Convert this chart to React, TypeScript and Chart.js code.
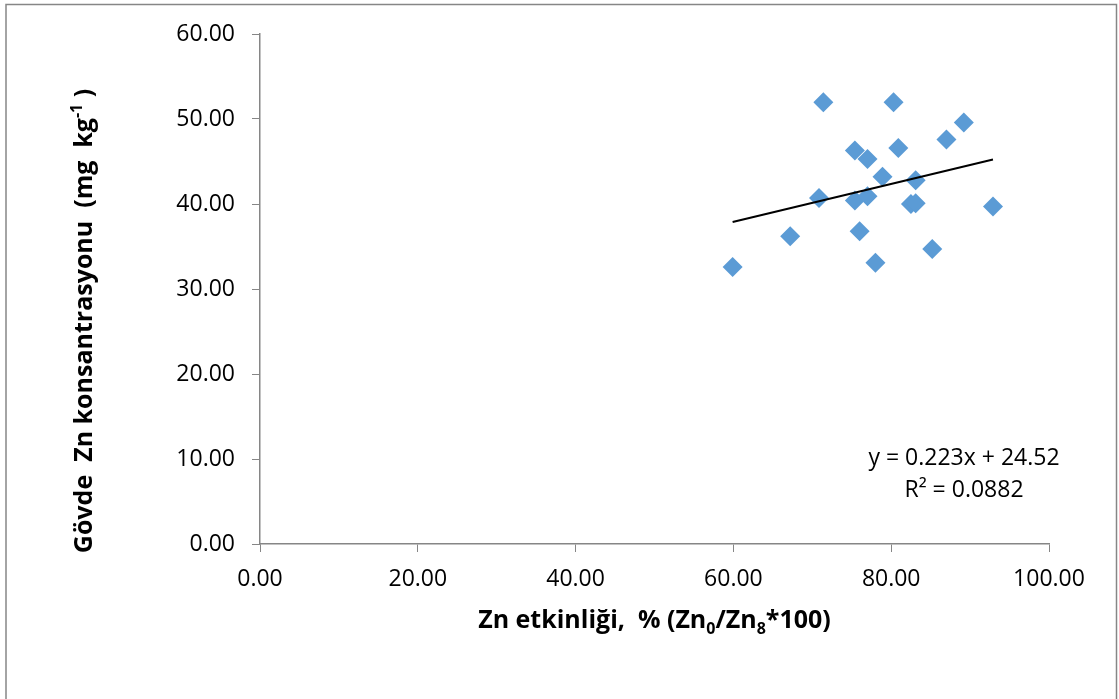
import React, { useEffect, useRef } from 'react';
import { Chart, registerables } from 'chart.js';

Chart.register(...registerables);

// Zn efficiency (%) – x values
const zincEfficiency = [59.9, 67.2, 70.85, 71.4, 75.4, 75.4, 76.0, 77.0, 77.0, 78.0, 78.9, 80.3, 80.9, 82.5, 83.1, 83.1, 85.2, 87.0, 89.2, 92.9];
// Shoot Zn concentration (mg kg-1) – y values
const shootZinc = [32.6, 36.2, 40.7, 51.96, 46.3, 40.4, 36.8, 45.3, 40.9, 33.1, 43.2, 51.96, 46.6, 40.0, 42.8, 40.1, 34.7, 47.6, 49.6, 39.7];

const trendSlope = 0.223;
const trendIntercept = 24.52;
const equationLabel = 'y = 0.223x + 24.52';
const rSquaredLabel = 'R² = 0.0882';

const xTitleParts = [
  { text: 'Zn etkinliği,  % (Zn' },
  { text: '0', sub: true },
  { text: '/Zn' },
  { text: '8', sub: true },
  { text: '*100)' },
];
const yTitleParts = [
  { text: 'Gövde  Zn konsantrasyonu  (mg  kg' },
  { text: '-1', sup: true },
  { text: ' )' },
];

const FONT = '"Open Sans", "DejaVu Sans", sans-serif';
const AXIS_COLOR = '#868686';

type Part = { text: string; sub?: boolean; sup?: boolean };

function drawRich(ctx: CanvasRenderingContext2D, parts: Part[], size: number, weight: string) {
  const small = Math.round(size * 0.65);
  const widths = parts.map((p) => {
    ctx.font = `${weight} ${p.sub || p.sup ? small : size}px ${FONT}`;
    return ctx.measureText(p.text).width;
  });
  const total = widths.reduce((a, b) => a + b, 0);
  let x = -total / 2;
  ctx.textAlign = 'left';
  ctx.textBaseline = 'alphabetic';
  parts.forEach((p, i) => {
    ctx.font = `${weight} ${p.sub || p.sup ? small : size}px ${FONT}`;
    const dy = p.sub ? size * 0.22 : p.sup ? -size * 0.42 : 0;
    ctx.fillText(p.text, x, dy);
    x += widths[i];
  });
}

const decorPlugin = {
  id: 'decor',
  beforeDraw(chart: any) {
    const { ctx, width, height } = chart;
    ctx.save();
    ctx.fillStyle = '#ffffff';
    ctx.fillRect(0, 0, width, height);
    ctx.strokeStyle = AXIS_COLOR;
    ctx.lineWidth = 1.5;
    ctx.strokeRect(6, 4.5, 1110.5, 800);
    ctx.restore();
  },
  afterDraw(chart: any) {
    const { ctx, chartArea } = chart;
    ctx.save();
    ctx.fillStyle = '#000000';
    // x title
    ctx.save();
    ctx.translate((chartArea.left + chartArea.right) / 2, 628);
    drawRich(ctx, xTitleParts, 25, 'bold');
    ctx.restore();
    // y title
    ctx.save();
    ctx.translate(92, 321);
    ctx.rotate(-Math.PI / 2);
    drawRich(ctx, yTitleParts, 25, 'bold');
    ctx.restore();
    // equation
    ctx.font = `23px ${FONT}`;
    ctx.textAlign = 'center';
    ctx.textBaseline = 'alphabetic';
    ctx.fillText(equationLabel, 964, 465);
    ctx.fillText(rSquaredLabel, 964, 497);
    ctx.restore();
  },
};

export default function App() {
  const ref = useRef<HTMLCanvasElement | null>(null);

  useEffect(() => {
    if (!ref.current) return;
    const xMin = Math.min(...zincEfficiency);
    const xMax = Math.max(...zincEfficiency);
    const chart = new Chart(ref.current, {
      type: 'scatter',
      data: {
        datasets: [
          {
            label: 'data',
            data: zincEfficiency.map((x, i) => ({ x, y: shootZinc[i] })),
            pointStyle: 'rectRot',
            pointRadius: 10,
            pointHoverRadius: 10,
            backgroundColor: '#5B9BD5',
            borderColor: '#5B9BD5',
            borderWidth: 0,
            order: 1,
          },
          {
            type: 'line',
            label: 'trend',
            data: [xMin, xMax].map((x) => ({ x, y: trendSlope * x + trendIntercept })),
            borderColor: '#000000',
            borderWidth: 2,
            pointRadius: 0,
            fill: false,
            order: 0,
          } as any,
        ],
      },
      options: {
        responsive: false,
        animation: false,
        devicePixelRatio: 1,
        layout: { padding: { top: 34, right: 70, left: 0, bottom: 0 } },
        plugins: { legend: { display: false }, tooltip: { enabled: false } },
        scales: {
          x: {
            type: 'linear',
            min: 0,
            max: 100,
            afterFit: (s: any) => { s.height = 155; },
            ticks: {
              stepSize: 20,
              padding: 14,
              color: '#000',
              font: { family: FONT, size: 23 },
              callback: (v: any) => Number(v).toFixed(2),
            },
            grid: { drawOnChartArea: false, drawTicks: true, tickLength: 8, color: AXIS_COLOR },
            border: { display: true, color: AXIS_COLOR, width: 1.5 },
          },
          y: {
            type: 'linear',
            min: 0,
            max: 60,
            afterFit: (s: any) => { s.width = 260; },
            ticks: {
              stepSize: 10,
              padding: 17,
              color: '#000',
              font: { family: FONT, size: 23 },
              callback: (v: any) => Number(v).toFixed(2),
            },
            grid: { drawOnChartArea: false, drawTicks: true, tickLength: 8, color: AXIS_COLOR },
            border: { display: true, color: AXIS_COLOR, width: 1.5 },
          },
        },
      },
      plugins: [decorPlugin],
    });
    return () => chart.destroy();
  }, []);

  return (
    <div style={{ position: 'absolute', left: 0, top: 0, width: 1119, height: 699, background: '#fff' }}>
      <canvas ref={ref} width={1119} height={699} style={{ width: 1119, height: 699, display: 'block' }} />
    </div>
  );
}
